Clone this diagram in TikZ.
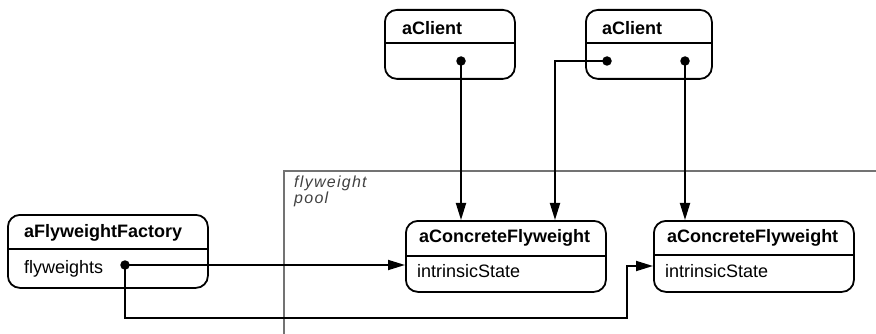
\documentclass[tikz,border=0pt]{standalone}
\usepackage{fontspec}
\setmainfont{Liberation Sans}
\usetikzlibrary{arrows.meta}
\begin{document}
\begin{tikzpicture}[x=1pt,y=-1pt,
  umlbox/.style={draw, line width=1.8pt, rounded corners=12pt, inner sep=0pt, anchor=north west},
  divider/.style={line width=1.4pt},
  titletext/.style={font=\fontsize{18}{20}\selectfont\bfseries, inner sep=0pt, anchor=base west},
  attrtext/.style={font=\fontsize{18}{20}\selectfont, inner sep=0pt, anchor=base west},
  pooltext/.style={font=\fontsize{16}{15.5}\selectfont\itshape\addfontfeature{LetterSpace=8}, text=black!75, inner sep=0pt, anchor=north west, align=left},
  dotnode/.style={circle, fill, inner sep=0pt, minimum size=9.5pt},
  arr/.style={line width=1.8pt, -{Triangle[length=17pt,width=10pt]}},
  pool/.style={draw=black!55, line width=1.6pt}
]
\useasboundingbox (0,0) rectangle (876,334);

% flyweight pool
\draw[pool] (284,334) -- (284,171) -- (876,171);
\node[pooltext] (pl) at (294,176) {flyweight\\pool};

% aClient 1
\node[umlbox, minimum width=130pt, minimum height=69pt] (c1) at (384,9) {};
\draw[divider] (c1.west |- 0,43) -- (c1.east |- 0,43);
\node[titletext] (c1t) at (402,35) {aClient};
\node[dotnode] (c1d) at (461,61) {};

% aClient 2
\node[umlbox, minimum width=126pt, minimum height=69pt] (c2) at (585,9) {};
\draw[divider] (c2.west |- 0,43) -- (c2.east |- 0,43);
\node[titletext] (c2t) at (602,35) {aClient};
\node[dotnode] (c2da) at (607,61) {};
\node[dotnode] (c2db) at (685,61) {};

% aConcreteFlyweight 1
\node[umlbox, minimum width=200pt, minimum height=71pt] (cf1) at (405,220) {};
\draw[divider] (cf1.west |- 0,256) -- (cf1.east |- 0,256);
\node[titletext] (cf1t) at (419,242) {aConcreteFlyweight};
\node[attrtext] (cf1a) at (417,277) {intrinsicState};

% aConcreteFlyweight 2
\node[umlbox, minimum width=200pt, minimum height=71pt] (cf2) at (653,220) {};
\draw[divider] (cf2.west |- 0,255) -- (cf2.east |- 0,255);
\node[titletext] (cf2t) at (667,242) {aConcreteFlyweight};
\node[attrtext] (cf2a) at (665,277) {intrinsicState};

% aFlyweightFactory
\node[umlbox, minimum width=200pt, minimum height=73pt] (ff) at (7,214) {};
\draw[divider] (ff.west |- 0,249) -- (ff.east |- 0,249);
\node[titletext] (fft) at (24,237) {aFlyweightFactory};
\node[attrtext] (ffa) at (24,273) {flyweights};
\node[dotnode] (ffd) at (125,265) {};

% connectors
\coordinate (k1) at (555,220);
\coordinate (k2) at (627,318);
\coordinate (k3) at (653,266);
\draw[arr] (c1d.center) -- (c1d.center |- cf1.north);
\draw[arr] (c2da.center) -| (k1);
\draw[arr] (c2db.center) -- (c2db.center |- cf2.north);
\draw[arr] (ffd.center) -- (ffd.center -| cf1.west);
\draw[arr] (ffd.center) |- (k2) |- (k3);
\end{tikzpicture}
\end{document}
